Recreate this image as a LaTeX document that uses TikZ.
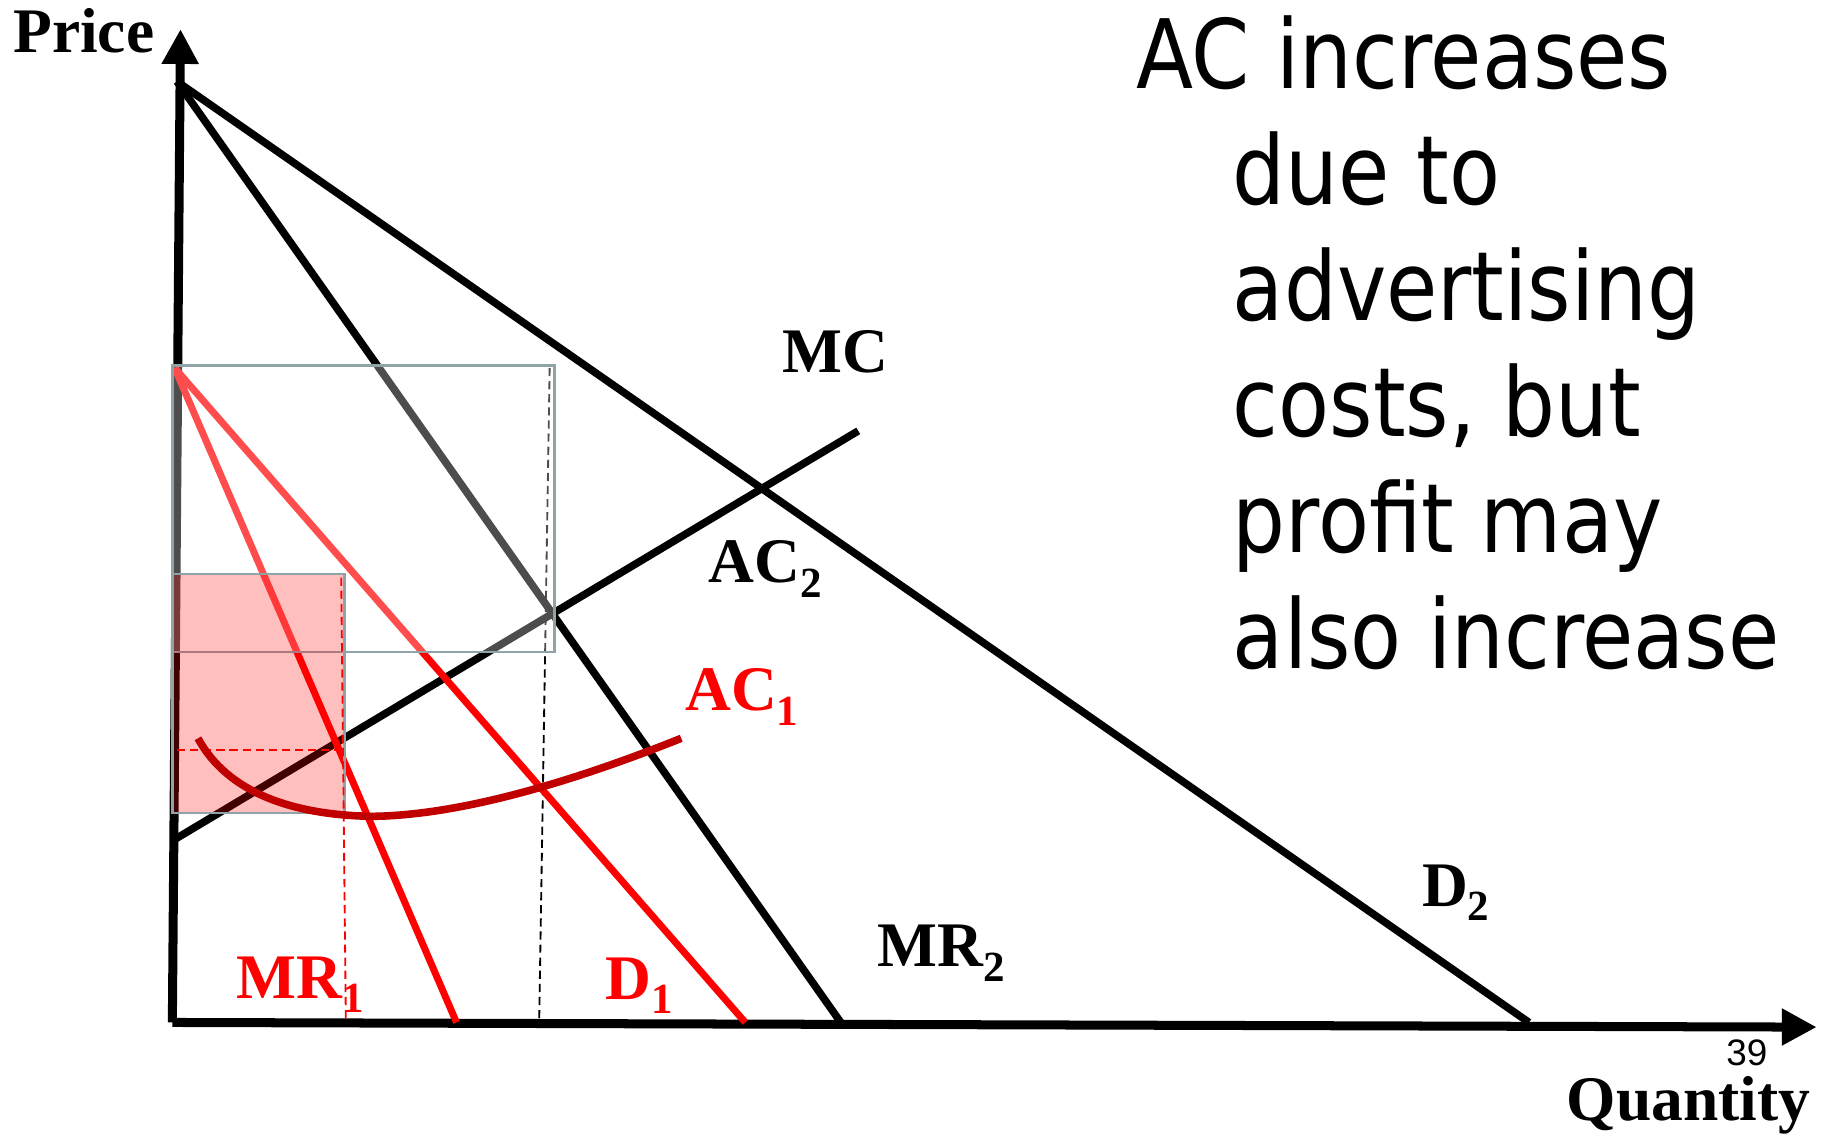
\documentclass[tikz,border=0pt]{standalone}
\usepackage{fontspec}
\setmainfont{Liberation Serif}
\newfontfamily\notefont[FakeStretch=0.87]{DejaVu Sans}
\newfontfamily\pagefont{Liberation Sans}
\usetikzlibrary{arrows.meta,calc}
\definecolor{hot}{HTML}{FF0000}
\definecolor{avgcost}{HTML}{C00000}
\definecolor{boxline}{HTML}{90A4A8}
\tikzset{
  axisline/.style = {-{Triangle[length=8.5pt,width=8.5pt]}, draw=black, line width=2.2pt},
  blackline/.style = {draw=black, line width=1.85pt},
  redline/.style   = {draw=hot, line width=1.7pt},
  acline/.style    = {draw=avgcost, line width=1.85pt},
  guide/.style     = {draw=black, line width=0.45pt, dash pattern=on 2pt off 1.2pt},
  redguide/.style  = {draw=hot, line width=0.45pt, dash pattern=on 2pt off 1.2pt},
  profit/.style    = {draw=boxline, line width=0.6pt, fill=hot, fill opacity=0.25},
  veil/.style      = {draw=boxline, line width=0.6pt, fill=white, fill opacity=0.3},
  lab/.style       = {font=\fontsize{15.5}{18}\selectfont\bfseries, anchor=base, inner sep=0pt},
  redlab/.style    = {lab, text=hot},
  note/.style      = {font=\notefont\fontsize{23.4}{28.3}\selectfont, align=left,
                      anchor=north west, inner sep=0pt},
}
\newcommand{\curvelabel}[4]{\node[#1] (#2) at (#3) {#4};}
\newcommand{\lowsub}[1]{\raisebox{-3.6pt}{\fontsize{10.5}{12}\selectfont #1}}

\begin{document}
\begin{tikzpicture}[x=0.01cm,y=-0.01cm]
\useasboundingbox (0,0) rectangle (1568,976);

% ------------------------------------------------------------------ points
\coordinate (O)    at (148,878);
\coordinate (ytip) at (155,25);
\coordinate (xtip) at (1560,882);
\coordinate (a2)   at (152,70);
\coordinate (d2q)  at (1313,878);
\coordinate (mr2q) at (722,878);
\coordinate (mc0)  at (148,722);
\coordinate (mc1)  at (737,370);
\coordinate (a1)   at (150,316);
\coordinate (d1q)  at (640,878);
\coordinate (mr1q) at (392,878);
\coordinate (q2top) at (472,316);
\coordinate (q2)    at (463,878);
\coordinate (q1top) at (293,496);
\coordinate (q1)    at (297,878);
\coordinate (p1l)   at (152,644);
\coordinate (p1r)   at (290,644);

% ------------------------------------------------------------------ market 2
\draw[blackline] (mc0) -- (mc1);
\draw[blackline] (a2) -- (d2q);
\draw[blackline] (a2) -- (mr2q);
\draw[guide] (q2top) -- (q2);
\draw[axisline] (O) -- (ytip);
\draw[axisline] (O) -- (xtip);

% ------------------------------------------------------------------ market 1
\draw[redline] (a1) -- (mr1q);
\draw[redline] (a1) -- (d1q);
\draw[veil] (148,314) rectangle (476,560);
\draw[profit] (148,493) rectangle (296,698);
\draw[redguide] (q1top) -- (q1);
\draw[redguide] (p1l) -- (p1r);
\draw[acline] (170,634) .. controls (195,680) and (250,700) .. (320,701)
              .. controls (400,700) and (500,668) .. (585,634);

% ------------------------------------------------------------------ labels
\curvelabel{lab}{price}{72,45}{Price}
\curvelabel{lab}{qty}{1450,962}{Quantity}
\curvelabel{lab}{mc}{717,320}{MC}
\curvelabel{lab}{ac2}{657,500}{AC\lowsub{2}}
\curvelabel{redlab}{ac1}{637,610}{AC\lowsub{1}}
\curvelabel{lab}{dd2}{1250,778}{D\lowsub{2}}
\curvelabel{lab}{mr2}{808,830}{MR\lowsub{2}}
\curvelabel{redlab}{mr1}{258,857}{MR\lowsub{1}}
\curvelabel{redlab}{dd1}{549,858}{D\lowsub{1}}
\node[font=\pagefont\fontsize{9}{10}\selectfont, anchor=base, inner sep=0pt] (page) at (1500,915) {39};

\node[note] (note) at (975,13)
  {AC increases\\
   \hspace*{0.83cm}due to\\
   \hspace*{0.83cm}advertising\\
   \hspace*{0.83cm}costs, but\\
   \hspace*{0.83cm}profit may\\
   \hspace*{0.83cm}also increase};

\end{tikzpicture}
\end{document}
